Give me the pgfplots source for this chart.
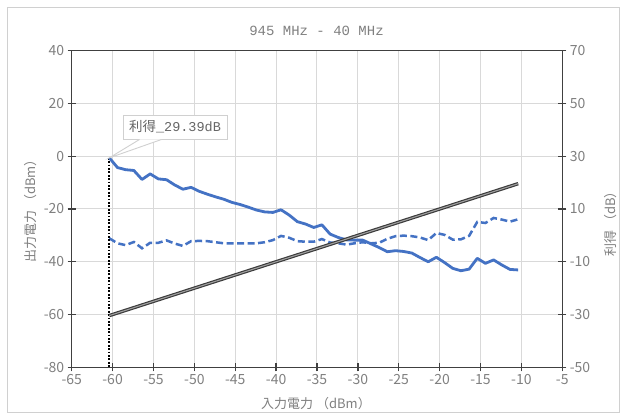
\documentclass[border=0pt]{standalone}
\usepackage{pgfplots}
\pgfplotsset{compat=1.18}
\usepackage{fontspec}
\setmainfont{Noto Sans CJK JP}
\newfontfamily\ttlfont{Liberation Mono}
\definecolor{txt}{HTML}{808080}
\definecolor{ax}{HTML}{404040}
\definecolor{grd}{HTML}{D9D9D9}
\definecolor{blu}{HTML}{4472C4}
\definecolor{frm}{HTML}{D0D0D0}
\pgfplotsset{
  base/.style={scale only axis, width=490.6pt, height=316.6pt,
    at={(71.7pt,46.7pt)}, anchor=south west, xmin=-65, xmax=-5,
    axis line style={ax, line width=1.4pt},
    tick style={ax, line width=1.4pt}, major tick length=8pt, tick align=center,
    tick label style={font=\fontsize{14}{16}\selectfont, text=txt},
    /pgf/number format/assume math mode=true},
}
\begin{document}
\begin{tikzpicture}
\path[use as bounding box] (0,0) rectangle (633pt,414pt);
\fill[white] (0,0) rectangle (633pt,414pt);
\draw[frm, line width=0.8pt] (7pt,2pt) rectangle (619pt,407pt);
% left axis: output power
\begin{axis}[base, ymin=-80, ymax=40, ytick={-80,-60,...,40},
  xtick={-65,-60,...,-5}, xtick pos=bottom, ytick pos=left,
  grid=major, grid style={grd, line width=1pt}]
\addplot[blu, line width=2.5pt, dash pattern=on 7pt off 3.5pt] coordinates {
(-60.4,-31.1) (-59.4,-33.0) (-58.4,-33.7) (-57.4,-32.5) (-56.4,-34.9)
(-55.4,-32.8) (-54.4,-32.8) (-53.4,-31.9) (-52.4,-33.1) (-51.4,-34.0)
(-50.4,-32.2) (-49.4,-32.1) (-48.4,-32.2) (-47.4,-32.6) (-46.4,-33.0)
(-45.4,-33.0) (-44.4,-33.0) (-43.4,-33.0) (-42.4,-33.0) (-41.4,-32.6)
(-40.4,-31.8) (-39.4,-30.2) (-38.4,-30.9) (-37.4,-32.2) (-36.4,-32.4)
(-35.4,-32.4) (-34.4,-31.4) (-33.4,-32.7) (-32.4,-33.0) (-31.4,-33.5)
(-30.4,-33.0) (-29.4,-32.6) (-28.4,-33.0) (-27.4,-32.8) (-26.4,-31.3)
(-25.4,-30.3) (-24.4,-30.1) (-23.4,-30.3) (-22.4,-30.8) (-21.4,-31.8)
(-20.4,-29.1) (-19.4,-29.8) (-18.4,-31.6) (-17.4,-31.5) (-16.4,-30.2)
(-15.4,-24.9) (-14.4,-25.3) (-13.4,-23.4) (-12.4,-24.0) (-11.4,-24.8)
(-10.4,-23.9)};
\end{axis}
% right axis: gain
\begin{axis}[base, ymin=-50, ymax=70, ytick={-50,-30,...,70},
  axis x line=none, axis y line*=right]
\addplot[black, line width=1.8pt, dash pattern=on 1.7pt off 1.7pt] coordinates {(-60.4,29.39) (-60.4,-50)};
\addplot[blu, line width=2.8pt, line join=round] coordinates {
(-60.4,29.39) (-59.4,25.7) (-58.4,24.9) (-57.4,24.6) (-56.4,21.2)
(-55.4,23.3) (-54.4,21.4) (-53.4,21.1) (-52.4,19.1) (-51.4,17.5)
(-50.4,18.2) (-49.4,16.7) (-48.4,15.6) (-47.4,14.6) (-46.4,13.7)
(-45.4,12.5) (-44.4,11.7) (-43.4,10.7) (-42.4,9.6) (-41.4,8.9)
(-40.4,8.7) (-39.4,9.7) (-38.4,7.7) (-37.4,5.2) (-36.4,4.3)
(-35.4,3.0) (-34.4,4.0) (-33.4,0.5) (-32.4,-0.8) (-31.4,-1.7)
(-30.4,-1.8) (-29.4,-1.8) (-28.4,-3.2) (-27.4,-4.6) (-26.4,-6.2)
(-25.4,-5.8) (-24.4,-6.1) (-23.4,-6.7) (-22.4,-8.4) (-21.4,-10.0)
(-20.4,-8.3) (-19.4,-10.3) (-18.4,-12.5) (-17.4,-13.4) (-16.4,-12.8)
(-15.4,-8.7) (-14.4,-10.6) (-13.4,-9.3) (-12.4,-11.2) (-11.4,-12.9)
(-10.4,-13.1)};
\coordinate (p) at (axis cs:-60.4,29.39);
\node[draw=frm, line width=0.9pt, fill=white, minimum width=104pt, minimum height=24pt, inner sep=0pt,
  text=ax!80, font=\fontsize{13.5}{15}\selectfont] (cb) at (axis cs:-52.37,41.07)
  {利得{\ttlfont\_29.39dB}};
\end{axis}
% overlay: input power on left scale
\begin{axis}[base, ymin=-80, ymax=40, hide axis]
\addplot[ax!90!black, line width=3.4pt] coordinates {(-60.4,-60.4) (-10.4,-10.4)};
\addplot[gray!75, line width=1.1pt] coordinates {(-60.4,-60.4) (-10.4,-10.4)};
\end{axis}
\draw[frm, line width=0.9pt, fill=white] ([xshift=17pt]cb.south west) -- (p) -- ([xshift=39pt]cb.south west);
\node[text=txt, font=\ttlfont\fontsize{14}{16}\selectfont] at (316.5pt,383pt) {945 MHz - 40 MHz};
\node[text=txt, font=\fontsize{13}{15}\selectfont, rotate=90] at (31pt,206pt) {出力電力 （dBm）};
\node[text=txt, font=\fontsize{13}{15}\selectfont, rotate=90] at (611pt,193pt) {利得 （dB）};
\node[text=txt, font=\fontsize{13}{15}\selectfont] at (316pt,10pt) {入力電力 （dBm）};
\end{tikzpicture}
\end{document}
